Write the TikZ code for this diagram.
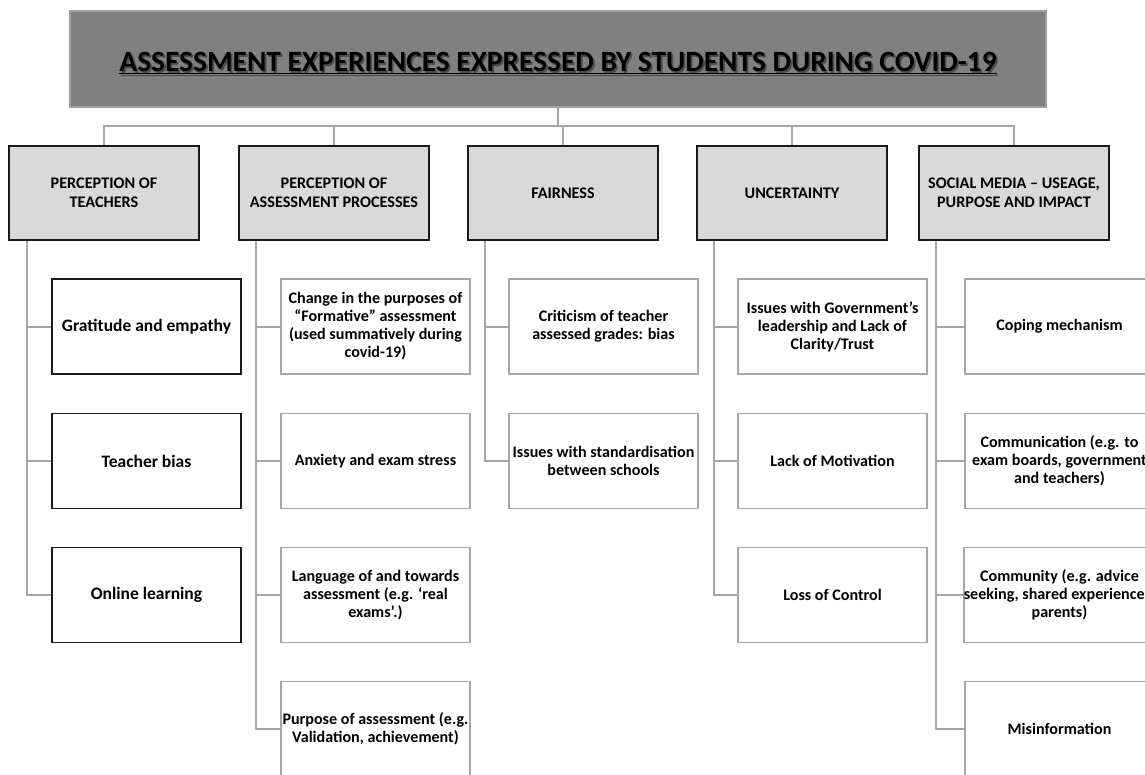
\documentclass[tikz,border=0pt]{standalone}
\usepackage{fontspec}
\setmainfont{Carlito}
\definecolor{titlegray}{HTML}{808080}
\definecolor{titleedge}{HTML}{A0A0A0}
\definecolor{catfill}{HTML}{D9D9D9}
\definecolor{edgedark}{HTML}{1A1A1A}
\definecolor{linkgray}{HTML}{A6A6A6}
\begin{document}
\begin{tikzpicture}[x=1pt,y=-1pt,
  titlebox/.style={draw=titleedge,fill=titlegray,line width=2pt,
    minimum width=976pt,minimum height=96pt,inner sep=0pt},
  catbox/.style={draw=edgedark,fill=catfill,line width=1.6pt,
    minimum width=190pt,minimum height=94pt,inner sep=0pt,align=center,
    font=\fontsize{16.2}{19}\selectfont\bfseries},
  leafdark/.style={draw=edgedark,line width=1.4pt,
    minimum width=189pt,minimum height=95pt,inner sep=0pt,align=center,
    font=\fontsize{17.5}{20}\selectfont\bfseries},
  leaf/.style={draw=linkgray,line width=1.4pt,
    minimum width=189pt,minimum height=95pt,inner sep=0pt,align=center,
    font=\fontsize{16.1}{18}\selectfont\bfseries},
  link/.style={draw=linkgray,line width=2pt},
  titletext/.style={font=\fontsize{29.4}{32}\selectfont\bfseries,inner sep=0pt}
]
\useasboundingbox (0,0) rectangle (1145,774);
\clip (0,0) rectangle (1145,774);

% title
\node[titlebox] (title) at (558,59) {};
\node[titletext,text=black,opacity=0.4] (titleshadow) at (559.8,64.8)
  {\underline{ASSESSMENT EXPERIENCES EXPRESSED BY STUDENTS DURING COVID-19}};
\node[titletext,text=black] (titlelabel) at (558,63)
  {\underline{ASSESSMENT EXPERIENCES EXPRESSED BY STUDENTS DURING COVID-19}};

% categories
\node[catbox] (c1) at (104,193)  {PERCEPTION OF\\TEACHERS};
\node[catbox] (c2) at (334,193)  {PERCEPTION OF\\ASSESSMENT PROCESSES};
\node[catbox] (c3) at (563,193)  {FAIRNESS};
\node[catbox] (c4) at (792,193)  {UNCERTAINTY};
\node[catbox] (c5) at (1014,193) {SOCIAL MEDIA -- USEAGE,\\PURPOSE AND IMPACT};

% teachers
\node[leafdark] (c1a) at (146.5,326.5) {Gratitude and empathy};
\node[leafdark] (c1b) at (146.5,461)   {Teacher bias};
\node[leafdark] (c1c) at (146.5,595)   {Online learning};

% assessment processes
\node[leaf] (c2a) at (375.5,326.5) {Change in the purposes of\\“Formative” assessment\\(used summatively during\\covid-19)};
\node[leaf] (c2b) at (375.5,461)   {Anxiety and exam stress};
\node[leaf] (c2c) at (375.5,595)   {Language of and towards\\assessment (e.g. ‘real\\exams’.)};
\node[leaf] (c2d) at (375.5,729)   {Purpose of assessment (e.g.\\Validation, achievement)};

% fairness
\node[leaf] (c3a) at (603.5,326.5) {Criticism of teacher\\assessed grades: bias};
\node[leaf] (c3b) at (603.5,461)   {Issues with standardisation\\between schools};

% uncertainty
\node[leaf] (c4a) at (832.5,326.5) {Issues with Government’s\\leadership and Lack of\\Clarity/Trust};
\node[leaf] (c4b) at (832.5,461)   {Lack of Motivation};
\node[leaf] (c4c) at (832.5,595)   {Loss of Control};

% social media
\node[leaf] (c5a) at (1059.5,326.5) {Coping mechanism};
\node[leaf] (c5b) at (1059.5,461)   {Communication (e.g. to\\exam boards, government\\and teachers)};
\node[leaf] (c5c) at (1059.5,595)   {Community (e.g. advice\\seeking, shared experiences,\\parents)};
\node[leaf] (c5d) at (1059.5,729)   {Misinformation};

% top bus
\coordinate (bus) at (558,126);
\draw[link] (title.south) -- (bus);
\foreach \c in {c1,c2,c3,c4,c5}{
  \draw[link] (bus) -| (\c.north);
}

% column spines and branches
\foreach \c/\leaves/\dx in {c1/{c1a,c1b,c1c}/19, c2/{c2a,c2b,c2c,c2d}/18,
    c3/{c3a,c3b}/18, c4/{c4a,c4b,c4c}/18, c5/{c5a,c5b,c5c,c5d}/18}{
  \foreach \l in \leaves{
    \draw[link] ([xshift=\dx pt]\c.south west) |- (\l.west);
  }
}
\end{tikzpicture}
\end{document}
